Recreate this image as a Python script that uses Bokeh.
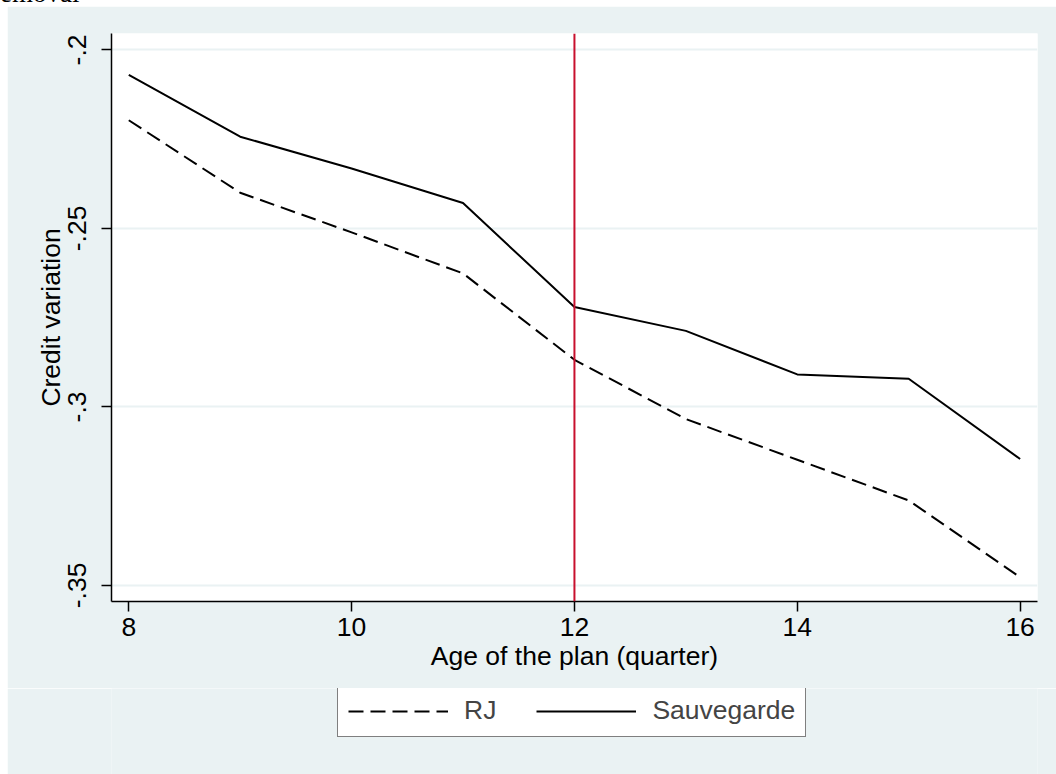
from bokeh.plotting import figure
from bokeh.models import Range1d, FixedTicker, Span, Legend, LegendItem, Div
from bokeh.layouts import column
from bokeh.embed import file_html
from bokeh.resources import INLINE

# ---- data ----
quarters = [8, 9, 10, 11, 12, 13, 14, 15, 16]
rj = [-0.2197, -0.2400, -0.2511, -0.2626, -0.2868, -0.3034, -0.3148, -0.3262, -0.3477]
sauvegarde = [-0.2070, -0.2243, -0.2332, -0.2429, -0.2720, -0.2787, -0.2909, -0.2921, -0.3146]
series_names = ["RJ", "Sauvegarde"]
x_ticks = [8, 10, 12, 14, 16]
y_ticks = [-0.35, -0.3, -0.25, -0.2]
y_tick_labels = ["-.35", "-.3", "-.25", "-.2"]
event_quarter = 12
x_title = "Age of the plan (quarter)"
y_title = "Credit variation"
clipped_caption = "emoval"

FONT = "Liberation Sans"
FS = "26.5px"
BG = "#EAF2F3"

TOP_STRIP = 6
LEFT_STRIP = 7
FIG_W = 1056 - LEFT_STRIP
MAIN_H = 682
LEG_H = 774 - TOP_STRIP - MAIN_H
BL, BR = 104, 19

p = figure(width=FIG_W, height=MAIN_H, output_backend="svg", toolbar_location=None,
           x_range=Range1d(7.845, 16.156), y_range=Range1d(-0.3545, -0.1954),
           min_border_left=BL, min_border_right=BR, min_border_top=27,
           min_border_bottom=MAIN_H - 595)
p.margin = (0, 0, 0, LEFT_STRIP)
p.border_fill_color = BG
p.background_fill_color = "white"
p.outline_line_color = None

r_rj = p.line(quarters, rj, line_color="black", line_width=2, line_dash="15 7")
r_sv = p.line(quarters, sauvegarde, line_color="black", line_width=2)

p.add_layout(Span(location=event_quarter, dimension="height",
                  line_color="#C8102E", line_width=2))

# axes
for ax in (p.xaxis, p.yaxis):
    ax.axis_line_color = "black"
    ax.axis_line_width = 1.5
    ax.major_tick_line_color = "black"
    ax.major_tick_line_width = 1.5
    ax.major_tick_out = 10
    ax.major_tick_in = 0
    ax.minor_tick_out = 0
    ax.minor_tick_in = 0
    ax.major_label_text_font = FONT
    ax.major_label_text_font_size = FS
    ax.major_label_text_color = "black"
    ax.axis_label_text_font = FONT
    ax.axis_label_text_font_size = FS
    ax.axis_label_text_font_style = "normal"
    ax.axis_label_text_color = "black"

p.xaxis.ticker = FixedTicker(ticks=x_ticks)
p.xaxis.axis_label = x_title
p.xaxis.major_label_standoff = 6
p.xaxis.axis_label_standoff = 2

p.yaxis.ticker = FixedTicker(ticks=y_ticks)
p.yaxis.major_label_overrides = {t: l for t, l in zip(y_ticks, y_tick_labels)}
p.yaxis.major_label_orientation = "vertical"
p.yaxis.axis_label = y_title
p.yaxis.major_label_standoff = 15
p.yaxis.axis_label_standoff = 0

p.xgrid.grid_line_color = None
p.ygrid.grid_line_color = BG
p.ygrid.grid_line_width = 2

# ---- legend strip below the plot ----
q = figure(width=FIG_W, height=LEG_H, output_backend="svg", toolbar_location=None,
           x_axis_type=None, y_axis_type=None, x_range=Range1d(0, 1), y_range=Range1d(0, 1),
           min_border_left=BL, min_border_right=BR,
           min_border_top=0, min_border_bottom=0)
q.margin = (0, 0, 0, LEFT_STRIP)
q.border_fill_color = BG
q.background_fill_color = BG
q.outline_line_color = None
q.xgrid.visible = False
q.ygrid.visible = False
l_rj = q.line(x=[-5, -4], y=[-5, -4], line_color="black", line_width=2, line_dash="15 7")
l_sv = q.line(x=[-5, -4], y=[-5, -4], line_color="black", line_width=2)

legend = Legend(items=[LegendItem(label=series_names[0], renderers=[l_rj]),
                       LegendItem(label=series_names[1], renderers=[l_sv])],
                orientation="horizontal", location=(226, LEG_H - 49),
                glyph_width=100, glyph_height=28, label_height=28,
                label_text_font=FONT, label_text_font_size=FS,
                label_standoff=16, spacing=40, padding=10, margin=0,
                border_line_color="black", border_line_width=1.5,
                background_fill_color="white", background_fill_alpha=1.0)
q.add_layout(legend, "center")

cap = Div(text='<span style="position:relative; top:-22px; left:0px;">' + clipped_caption + '</span>',
          width=1056, height=TOP_STRIP, margin=0,
          styles={"overflow": "hidden", "font-family": "Liberation Serif",
                  "font-size": "27px", "line-height": "31px", "color": "black",
                  "background-color": "white"})

layout = column(cap, p, q, spacing=0)

open("out.html", "w").write(file_html(layout, INLINE))
